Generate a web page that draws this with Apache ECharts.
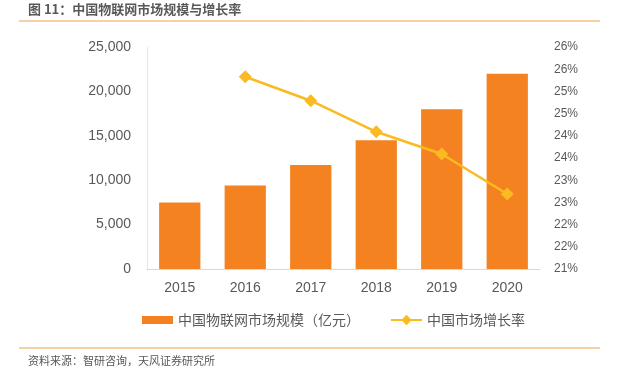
<!DOCTYPE html>
<html><head><meta charset="utf-8">
<script src="https://cdn.jsdelivr.net/npm/echarts@6/dist/echarts.min.js"></script>
<style>html,body{margin:0;padding:0;background:#fff}#c{width:624px;height:372px}</style>
</head><body><div id="c"></div>
<script>
var years = ['2015','2016','2017','2018','2019','2020'];
var marketSize = [7500, 9400, 11700, 14500, 18000, 22000];
var growthRate = [null, 25.33, 24.79, 24.09, 23.59, 22.69];
var leftTicks = {min: 0, max: 25000, interval: 5000};
var rightTicks = {min: 21, max: 26, interval: 0.5};
var titleText = '图 11：中国物联网市场规模与增长率';
var sourceText = '资料来源：智研咨询，天风证券研究所';
var sizeName = '中国物联网市场规模（亿元）';
var rateName = '中国市场增长率';

var font = '"Microsoft YaHei","Noto Sans CJK SC",sans-serif';
var chart = echarts.init(document.getElementById('c'), null, {renderer:'canvas'});
chart.setOption({
  animation: false,
  textStyle: {fontFamily: font},
  grid: {left: 147, right: 84, top: 47, bottom: 103, containLabel: false},
  graphic: [
    {type:'text', left: 28, top: 3, style:{text: titleText, fill:'#595959', font:'bold 13px ' + font}},
    {type:'line', shape:{x1:19, y1:21, x2:600, y2:21}, style:{stroke:'#F0A050', lineWidth:1}},
    {type:'line', shape:{x1:19, y1:348, x2:600, y2:348}, style:{stroke:'#F0A050', lineWidth:1}},
    {type:'text', left: 28, top: 355, style:{text: sourceText, fill:'#595959', font:'11px ' + font}}
  ],
  legend: {
    top: 308, left: 137, itemGap: 30, itemWidth: 31, itemHeight: 13,
    textStyle: {color:'#595959', fontSize: 14, fontFamily: font},
    data: [{name: sizeName, icon: 'path://M0,0h31v8h-31z'}, {name: rateName}]
  },
  xAxis: {
    type: 'category', data: years,
    axisLine: {lineStyle: {color:'#D9D9D9'}},
    axisTick: {show: false},
    axisLabel: {color:'#595959', fontSize: 14, margin: 12, fontFamily:'Arial, "Liberation Sans", sans-serif'}
  },
  yAxis: [
    {type:'value', min: leftTicks.min, max: leftTicks.max, interval: leftTicks.interval,
     axisLine: {show: true, lineStyle: {color:'#E6E6E6'}},
     axisTick: {show:false}, splitLine: {show:false},
     axisLabel: {color:'#595959', fontSize: 14, margin: 16, fontFamily:'Arial, "Liberation Sans", sans-serif',
       formatter: function(v){ return v.toLocaleString('en-US'); }}},
    {type:'value', min: rightTicks.min, max: rightTicks.max, interval: rightTicks.interval,
     axisLine: {show:false}, axisTick: {show:false}, splitLine: {show:false},
     axisLabel: {color:'#595959', fontSize: 12, margin: 14, fontFamily:'Arial, "Liberation Sans", sans-serif',
       formatter: function(v){ return Math.round(v) + '%'; }}}
  ],
  series: [
    {name: sizeName, type:'bar', data: marketSize, barWidth: '63%',
     itemStyle: {color:'#F58220'}},
    {name: rateName, type:'line', yAxisIndex: 1, data: growthRate,
     symbol:'diamond', symbolSize: 13, connectNulls: false,
     lineStyle: {color:'#FBBA22', width: 2.5},
     itemStyle: {color:'#FBBA22'}}
  ]
});
</script></body></html>
